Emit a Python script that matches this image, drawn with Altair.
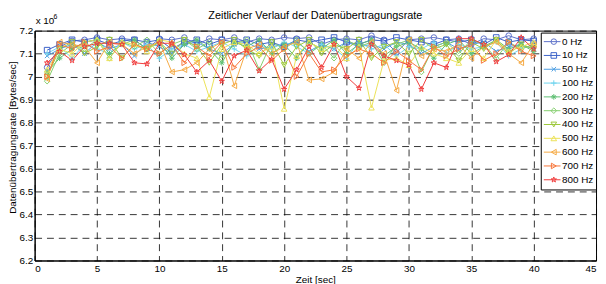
import altair as alt
import pandas as pd

# time axis (seconds) and series names
time_s = list(range(1, 41))
series_names = ["0 Hz", "10 Hz", "50 Hz", "100 Hz", "200 Hz", "300 Hz",
                "400 Hz", "500 Hz", "600 Hz", "700 Hz", "800 Hz"]

# data rate in units of 10^6 Bytes/sec
rate_0hz = [7.04, 7.13, 7.155, 7.16, 7.17, 7.16, 7.165, 7.16, 7.12, 7.165, 7.16, 7.17, 7.14, 7.165,
            7.16, 7.17, 7.15, 7.165, 7.16, 7.17, 7.165, 7.17, 7.14, 7.16, 7.165, 7.16, 7.178, 7.16,
            7.105, 7.16, 7.165, 7.17, 7.16, 7.165, 7.14, 7.165, 7.16, 7.178, 7.16, 7.165]
rate_10hz = [7.115, 7.14, 7.16, 7.15, 7.16, 7.14, 7.155, 7.16, 7.15, 7.16, 7.12, 7.15, 7.16, 7.14,
             7.16, 7.15, 7.16, 7.14, 7.15, 7.13, 7.16, 7.15, 7.16, 7.17, 7.15, 7.14, 7.16, 7.155,
             7.17, 7.16, 7.15, 7.14, 7.16, 7.15, 7.16, 7.14, 7.17, 7.15, 7.16, 7.155]
rate_50hz = [7.09, 7.12, 7.14, 7.10, 7.15, 7.12, 7.14, 7.09, 7.15, 7.13, 7.10, 7.14, 7.15, 7.12,
             7.10, 7.14, 7.15, 7.12, 7.13, 7.14, 7.15, 7.11, 7.14, 7.12, 7.15, 7.13, 7.14, 7.12,
             7.15, 7.14, 7.10, 7.13, 7.15, 7.12, 7.14, 7.15, 7.11, 7.13, 7.14, 7.12]
rate_100hz = [7.10, 7.13, 7.08, 7.14, 7.12, 7.10, 7.15, 7.12, 7.14, 7.08, 7.12, 7.14, 7.11, 7.13,
              7.15, 7.12, 7.09, 7.14, 7.12, 7.15, 7.13, 7.10, 7.14, 7.12, 7.08, 7.15, 7.12, 7.14,
              7.09, 7.13, 7.12, 7.15, 7.10, 7.14, 7.12, 7.13, 7.15, 7.09, 7.12, 7.14]
rate_200hz = [7.02, 7.08, 7.12, 7.15, 7.16, 7.10, 7.14, 7.16, 7.12, 7.15, 7.08, 7.14, 7.16, 7.12,
              7.06, 7.15, 7.13, 7.16, 7.10, 7.14, 7.08, 7.15, 7.12, 7.16, 7.10, 7.14, 7.16, 7.09,
              7.13, 7.15, 7.12, 7.08, 7.14, 7.16, 7.10, 7.13, 7.16, 7.12, 7.14, 7.11]
rate_300hz = [6.98, 7.10, 7.14, 7.12, 7.16, 7.08, 7.15, 7.13, 7.16, 7.10, 7.14, 7.16, 7.12, 7.15,
              7.08, 7.14, 7.16, 7.03, 7.15, 7.12, 7.16, 7.10, 7.14, 7.08, 7.16, 7.13, 7.15, 7.06,
              7.14, 7.16, 7.02, 7.13, 7.15, 7.10, 7.16, 7.14, 7.08, 7.15, 7.12, 7.14]
rate_400hz = [7.00, 7.12, 7.15, 7.10, 7.13, 7.16, 7.08, 7.14, 7.12, 7.15, 7.10, 7.16, 7.13, 7.06,
              7.14, 7.16, 7.12, 7.09, 7.15, 7.05, 7.13, 7.16, 7.10, 7.14, 7.12, 7.16, 7.08, 7.13,
              7.15, 7.10, 7.16, 7.12, 7.14, 7.07, 7.15, 7.12, 7.16, 7.10, 7.14, 7.12]
rate_500hz = [7.03, 7.12, 7.10, 7.15, 7.16, 7.08, 7.15, 7.14, 7.11, 7.16, 7.15, 7.10, 7.08, 6.91,
              7.12, 7.15, 7.14, 7.10, 7.13, 6.86, 7.09, 7.15, 7.12, 7.14, 7.08, 7.13, 6.865, 7.07,
              7.08, 7.05, 7.13, 7.10, 7.08, 7.06, 7.12, 7.08, 7.16, 7.11, 7.13, 7.15]
rate_600hz = [6.99, 7.15, 7.14, 7.13, 7.06, 7.15, 7.14, 7.10, 7.13, 7.15, 7.02, 7.03, 7.06, 7.12,
              7.15, 6.96, 7.12, 7.14, 7.10, 7.13, 7.15, 6.985, 6.99, 7.02, 7.12, 7.08, 7.15, 7.10,
              6.94, 7.16, 7.09, 7.12, 7.11, 7.14, 7.08, 7.13, 7.15, 7.10, 7.06, 7.14]
rate_700hz = [7.00, 7.14, 7.12, 7.15, 7.11, 7.13, 7.08, 7.14, 7.12, 7.10, 7.14, 7.06, 7.13, 7.09,
              7.15, 7.04, 7.10, 7.13, 7.07, 7.12, 7.00, 7.10, 7.02, 7.03, 7.09, 7.12, 7.10, 7.06,
              7.11, 7.07, 7.03, 7.13, 7.09, 7.12, 7.14, 7.07, 7.10, 7.15, 7.11, 7.09]
rate_800hz = [7.06, 7.11, 7.07, 7.13, 7.145, 7.145, 7.14, 7.06, 7.055, 7.145, 7.145, 7.095, 7.02,
              7.07, 6.98, 7.09, 7.115, 7.025, 7.075, 6.945, 7.03, 7.13, 7.04, 7.14, 7.0, 6.95, 7.14,
              7.09, 7.07, 7.05, 6.945, 7.06, 7.04, 7.165, 7.165, 7.14, 7.065, 7.095, 7.17, 7.12]

all_rates = [rate_0hz, rate_10hz, rate_50hz, rate_100hz, rate_200hz, rate_300hz,
             rate_400hz, rate_500hz, rate_600hz, rate_700hz, rate_800hz]

y_ticks = [6.2, 6.3, 6.4, 6.5, 6.6, 6.7, 6.8, 6.9, 7.0, 7.1, 7.2]
x_ticks = [0, 5, 10, 15, 20, 25, 30, 35, 40, 45]

# styles
series_colors = ["#5c70c8", "#3c62c8", "#4c9de2", "#70d4ee", "#5fbf74", "#84ce6e",
                 "#9cc83a", "#ece256", "#f5aa44", "#f7763a", "#f03c3c"]
STAR = ("M0,-1L0.223,-0.307L0.951,-0.309L0.361,0.117L0.588,0.809L0,0.38L-0.588,0.809"
        "L-0.361,0.117L-0.951,-0.309L-0.223,-0.307Z")
series_shapes = ["circle", "square", "M-0.8,-0.8L0.8,0.8M-0.8,0.8L0.8,-0.8",
                 "M-1,0L1,0M0,-1L0,1",
                 "M-1,0L1,0M0,-1L0,1M-0.7,-0.7L0.7,0.7M-0.7,0.7L0.7,-0.7",
                 "diamond", "triangle-down", "triangle-up", "triangle-left",
                 "triangle-right", STAR]

rows = []
for name, vals in zip(series_names, all_rates):
    for t, v in zip(time_s, vals):
        rows.append({"t": t, "rate": v, "series": name})
df = pd.DataFrame(rows)

FONT = "Liberation Sans"

x_enc = alt.X("t:Q", scale=alt.Scale(domain=[0, 45], nice=False, zero=False),
              axis=alt.Axis(values=x_ticks, title="Zeit [sec]", titleY=19,
                            titleBaseline="middle", labelPadding=3, format="d"))
y_enc = alt.Y("rate:Q", scale=alt.Scale(domain=[6.2, 7.2], nice=False, zero=False),
              axis=alt.Axis(values=y_ticks, title="Datenübertragungsrate [Bytes/sec]",
                            format=".1~f", labelPadding=2, titleX=-22, titleY=108,
                            titleAngle=270, titleAlign="center", titleBaseline="middle"))

color_scale = alt.Scale(domain=series_names, range=series_colors)

LX, LY = 513, 2
ROW_H = 13.34
PT_SIZE = 32

lines = alt.Chart(df).mark_line(strokeWidth=1).encode(
    x=x_enc, y=y_enc,
    color=alt.Color("series:N", scale=color_scale, sort=series_names,
                    legend=alt.Legend(orient="none", legendX=LX, legendY=LY, title=None,
                                      symbolType="stroke", symbolSize=289,
                                      symbolStrokeWidth=1, clipHeight=ROW_H, rowPadding=0,
                                      labelFont=FONT, labelFontSize=10, labelColor="black",
                                      labelOffset=1, padding=2.5,
                                      fillColor="white", strokeColor="black")),
)

pt_legend = alt.Legend(orient="none", legendX=LX + 5.7, legendY=LY, title=None,
                       symbolSize=PT_SIZE, symbolStrokeWidth=1, clipHeight=ROW_H,
                       rowPadding=0, labelFont=FONT, labelFontSize=10, labelOpacity=0,
                       padding=2.5)

points = alt.Chart(df).mark_point(filled=False, size=PT_SIZE, strokeWidth=1, opacity=1).encode(
    x=x_enc, y=y_enc,
    color=alt.Color("series:N", scale=color_scale, sort=series_names, legend=pt_legend),
    shape=alt.Shape("series:N", scale=alt.Scale(domain=series_names, range=series_shapes),
                    sort=series_names, legend=pt_legend),
)

exp_base = alt.Chart(pd.DataFrame({"txt": ["x 10"]})).mark_text(
    align="left", baseline="alphabetic", font=FONT, fontSize=10, color="black"
).encode(text="txt:N", x=alt.value(1), y=alt.value(-7))
exp_pow = alt.Chart(pd.DataFrame({"txt": ["6"]})).mark_text(
    align="left", baseline="alphabetic", font=FONT, fontSize=7, color="black"
).encode(text="txt:N", x=alt.value(19), y=alt.value(-12))

chart = alt.layer(lines, points, exp_base, exp_pow).resolve_scale(
    color="independent", shape="independent"
).properties(
    width=569, height=233,
    title=alt.TitleParams("Zeitlicher Verlauf der Datenübertragungsrate", font=FONT,
                          fontSize=11, fontWeight="normal", color="black",
                          anchor="middle", offset=-8),
    autosize=alt.AutoSizeParams(type="none"),
    padding={"left": 27, "top": 21, "right": 2, "bottom": 30},
).configure_view(
    stroke="black", strokeWidth=1
).configure_axis(
    grid=True, gridColor="black", gridDash=[7, 5], gridOpacity=0.8, gridWidth=1,
    domainColor="black", domainWidth=1, ticks=False,
    labelFont=FONT, labelFontSize=10, labelColor="black",
    titleFont=FONT, titleFontSize=10, titleFontWeight="normal", titleColor="black",
)

chart.save("out.html", embed_options={"renderer": "svg", "actions": False})
